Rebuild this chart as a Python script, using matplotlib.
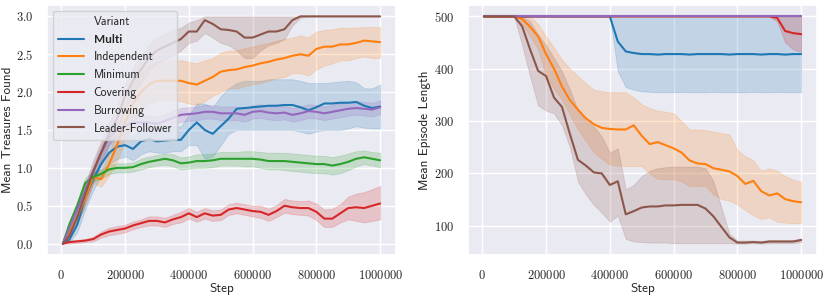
import matplotlib
matplotlib.use('Agg')
import matplotlib.pyplot as plt
from matplotlib.lines import Line2D
import seaborn as sns

sns.set_theme(style='darkgrid')
plt.rcParams['font.family'] = ['cmss10', 'DejaVu Sans']
plt.rcParams['mathtext.fontset'] = 'cm'
plt.rcParams['axes.unicode_minus'] = False

# evaluation steps
steps = [5000] + list(range(25000, 1000001, 25000))

variants = ['Multi', 'Independent', 'Minimum', 'Covering', 'Burrowing', 'Leader-Follower']
colors = ['#1f77b4', '#ff7f0e', '#2ca02c', '#d62728', '#9467bd', '#8c564b']

# ---- Mean Treasures Found (mean, lower, upper) ----
multi = [0.00, 0.05, 0.25, 0.60, 0.85, 1.05, 1.20, 1.28, 1.30, 1.25, 1.35, 1.38, 1.35, 1.36, 1.37, 1.37, 1.50, 1.60, 1.50, 1.45, 1.55,
         1.65, 1.78, 1.79, 1.80, 1.81, 1.82, 1.82, 1.83, 1.83, 1.80, 1.76, 1.80, 1.85, 1.85, 1.86, 1.86, 1.87, 1.82, 1.79, 1.81]
multi_lo = [0.00, 0.02, 0.15, 0.45, 0.70, 0.90, 1.05, 1.12, 1.15, 1.10, 1.18, 1.22, 1.20, 1.20, 1.22, 1.22, 1.30, 1.30, 1.12, 1.15, 1.30,
            1.45, 1.50, 1.50, 1.50, 1.50, 1.50, 1.50, 1.50, 1.50, 1.48, 1.45, 1.48, 1.50, 1.50, 1.50, 1.52, 1.55, 1.53, 1.52, 1.52]
multi_hi = [0.00, 0.08, 0.35, 0.75, 1.00, 1.20, 1.35, 1.42, 1.45, 1.42, 1.50, 1.55, 1.52, 1.54, 1.55, 1.55, 1.70, 1.85, 1.85, 1.80, 1.95,
            2.05, 2.12, 2.15, 2.15, 2.15, 2.17, 2.17, 2.17, 2.17, 2.15, 2.12, 2.12, 2.12, 2.13, 2.14, 2.15, 2.13, 2.05, 2.05, 2.10]

indep = [0.00, 0.15, 0.35, 0.60, 0.88, 0.85, 1.05, 1.30, 1.60, 1.85, 2.00, 2.10, 2.15, 2.15, 2.15, 2.15, 2.12, 2.10, 2.15, 2.20, 2.27,
         2.29, 2.30, 2.33, 2.35, 2.38, 2.40, 2.43, 2.45, 2.48, 2.50, 2.48, 2.57, 2.60, 2.60, 2.63, 2.63, 2.65, 2.68, 2.67, 2.66]
indep_lo = [0.00, 0.10, 0.28, 0.50, 0.80, 0.75, 0.90, 1.10, 1.35, 1.60, 1.75, 1.85, 1.90, 1.90, 1.90, 1.88, 1.85, 1.83, 1.88, 1.95, 2.00,
            2.05, 2.05, 2.08, 2.10, 2.12, 2.15, 2.18, 2.20, 2.25, 2.25, 2.22, 2.30, 2.35, 2.38, 2.42, 2.42, 2.45, 2.47, 2.45, 2.45]
indep_hi = [0.00, 0.20, 0.42, 0.70, 0.95, 0.95, 1.20, 1.50, 1.85, 2.10, 2.25, 2.35, 2.40, 2.40, 2.42, 2.42, 2.40, 2.38, 2.42, 2.45, 2.52,
            2.55, 2.55, 2.58, 2.60, 2.63, 2.65, 2.68, 2.70, 2.72, 2.75, 2.72, 2.80, 2.82, 2.83, 2.85, 2.85, 2.85, 2.86, 2.86, 2.86]

minimum = [0.00, 0.25, 0.50, 0.80, 0.88, 0.92, 0.98, 1.00, 1.00, 1.01, 1.05, 1.08, 1.10, 1.12, 1.10, 1.06, 1.07, 1.09, 1.09, 1.10, 1.12,
           1.12, 1.12, 1.12, 1.12, 1.11, 1.09, 1.09, 1.09, 1.08, 1.07, 1.06, 1.05, 1.05, 1.03, 1.05, 1.08, 1.12, 1.14, 1.12, 1.10]
minimum_lo = [0.00, 0.20, 0.45, 0.73, 0.82, 0.86, 0.92, 0.94, 0.94, 0.95, 0.98, 1.01, 1.03, 1.04, 1.02, 0.98, 0.99, 1.00, 1.00, 1.01, 1.03,
              1.03, 1.03, 1.02, 1.02, 1.00, 0.98, 0.98, 0.97, 0.96, 0.95, 0.94, 0.93, 0.93, 0.91, 0.93, 0.97, 1.02, 1.05, 1.03, 1.01]
minimum_hi = [0.00, 0.30, 0.56, 0.87, 0.95, 0.98, 1.04, 1.06, 1.06, 1.07, 1.12, 1.15, 1.17, 1.19, 1.18, 1.14, 1.15, 1.18, 1.18, 1.19, 1.21,
              1.21, 1.21, 1.22, 1.22, 1.21, 1.20, 1.20, 1.20, 1.19, 1.18, 1.17, 1.16, 1.16, 1.14, 1.16, 1.19, 1.22, 1.23, 1.21, 1.20]

covering = [0.00, 0.02, 0.03, 0.04, 0.06, 0.12, 0.16, 0.18, 0.20, 0.24, 0.27, 0.30, 0.30, 0.28, 0.32, 0.35, 0.40, 0.35, 0.40, 0.37, 0.38,
            0.45, 0.47, 0.45, 0.43, 0.42, 0.38, 0.43, 0.50, 0.48, 0.47, 0.47, 0.42, 0.33, 0.33, 0.40, 0.47, 0.48, 0.47, 0.50, 0.53]
covering_lo = [0.00, 0.00, 0.01, 0.02, 0.03, 0.08, 0.11, 0.13, 0.15, 0.19, 0.22, 0.24, 0.24, 0.22, 0.26, 0.28, 0.33, 0.29, 0.33, 0.30, 0.31,
               0.38, 0.40, 0.38, 0.36, 0.34, 0.30, 0.35, 0.41, 0.39, 0.38, 0.37, 0.31, 0.22, 0.22, 0.28, 0.32, 0.30, 0.28, 0.30, 0.32]
covering_hi = [0.00, 0.04, 0.05, 0.06, 0.09, 0.16, 0.21, 0.23, 0.25, 0.29, 0.32, 0.36, 0.36, 0.34, 0.38, 0.42, 0.47, 0.42, 0.47, 0.44, 0.45,
               0.52, 0.54, 0.52, 0.50, 0.50, 0.46, 0.51, 0.59, 0.57, 0.56, 0.57, 0.53, 0.45, 0.46, 0.52, 0.62, 0.66, 0.68, 0.72, 0.76]

burrow = [0.00, 0.20, 0.45, 0.70, 0.95, 1.20, 1.40, 1.50, 1.55, 1.60, 1.60, 1.60, 1.58, 1.62, 1.66, 1.70, 1.71, 1.72, 1.74, 1.74, 1.72,
          1.72, 1.72, 1.70, 1.74, 1.75, 1.73, 1.72, 1.73, 1.70, 1.72, 1.75, 1.74, 1.72, 1.74, 1.76, 1.78, 1.79, 1.78, 1.77, 1.80]
burrow_lo = [0.00, 0.14, 0.37, 0.61, 0.86, 1.10, 1.30, 1.40, 1.45, 1.50, 1.51, 1.51, 1.49, 1.53, 1.57, 1.61, 1.62, 1.63, 1.65, 1.65, 1.63,
             1.63, 1.63, 1.61, 1.65, 1.66, 1.64, 1.63, 1.64, 1.61, 1.63, 1.66, 1.65, 1.63, 1.65, 1.67, 1.69, 1.70, 1.69, 1.68, 1.71]
burrow_hi = [0.00, 0.26, 0.53, 0.79, 1.04, 1.30, 1.50, 1.60, 1.65, 1.70, 1.69, 1.69, 1.67, 1.71, 1.75, 1.79, 1.80, 1.81, 1.83, 1.83, 1.81,
             1.81, 1.81, 1.79, 1.83, 1.84, 1.82, 1.81, 1.82, 1.79, 1.81, 1.84, 1.83, 1.81, 1.83, 1.85, 1.87, 1.88, 1.87, 1.86, 1.89]

leader = [0.00, 0.10, 0.35, 0.65, 0.95, 1.20, 1.45, 1.65, 1.95, 2.15, 2.30, 2.45, 2.55, 2.60, 2.65, 2.70, 2.80, 2.80, 2.95, 2.90, 2.83,
          2.82, 2.80, 2.72, 2.72, 2.76, 2.80, 2.80, 2.83, 2.95, 3.00, 3.00, 3.00, 3.00, 3.00, 3.00, 3.00, 3.00, 3.00, 3.00, 3.00]
leader_lo = [0.00, 0.05, 0.25, 0.52, 0.80, 1.05, 1.30, 1.50, 1.78, 1.98, 2.12, 2.28, 2.38, 2.43, 2.48, 2.55, 2.65, 2.68, 2.78, 2.72, 2.65,
             2.62, 2.55, 2.45, 2.45, 2.55, 2.62, 2.65, 2.70, 2.88, 2.98, 3.00, 3.00, 3.00, 3.00, 3.00, 3.00, 3.00, 3.00, 3.00, 3.00]
leader_hi = [0.00, 0.15, 0.45, 0.78, 1.10, 1.35, 1.60, 1.80, 2.12, 2.32, 2.48, 2.62, 2.72, 2.77, 2.82, 2.85, 2.92, 2.95, 3.00, 3.00, 3.00,
             3.00, 3.00, 3.00, 3.00, 3.00, 3.00, 3.00, 3.00, 3.00, 3.00, 3.00, 3.00, 3.00, 3.00, 3.00, 3.00, 3.00, 3.00, 3.00, 3.00]

# ---- Mean Episode Length (mean, lower, upper) ----
flat_500 = [500, 500, 500, 500, 500, 500, 500, 500, 500, 500, 500, 500, 500, 500, 500, 500, 500, 500, 500, 500, 500,
            500, 500, 500, 500, 500, 500, 500, 500, 500, 500, 500, 500, 500, 500, 500, 500, 500, 500, 500, 500]

multi_len = [500, 500, 500, 500, 500, 500, 500, 500, 500, 500, 500, 500, 500, 500, 500, 500, 500, 452, 433, 430, 428,
             428, 427, 428, 428, 428, 427, 428, 428, 428, 428, 427, 428, 428, 428, 427, 428, 428, 427, 428, 428]
multi_len_lo = [500, 500, 500, 500, 500, 500, 500, 500, 500, 500, 500, 500, 500, 500, 500, 500, 500, 395, 365, 360, 357,
                356, 355, 355, 355, 356, 355, 355, 355, 356, 355, 355, 355, 355, 356, 355, 355, 356, 355, 355, 355]
multi_len_hi = flat_500

indep_len = [500, 500, 500, 500, 500, 495, 480, 462, 428, 400, 366, 340, 322, 305, 294, 287, 285, 284, 284, 292, 272,
             256, 260, 254, 248, 240, 225, 219, 218, 210, 207, 204, 195, 180, 186, 166, 158, 162, 151, 147, 145]
indep_len_lo = [500, 500, 500, 500, 500, 485, 462, 437, 386, 362, 341, 312, 284, 262, 240, 228, 217, 215, 214, 214, 214,
                200, 190, 189, 189, 185, 176, 176, 176, 160, 151, 148, 141, 130, 120, 113, 116, 108, 106, 105, 105]
indep_len_hi = [500, 500, 500, 500, 500, 500, 500, 485, 462, 440, 417, 400, 386, 372, 360, 357, 355, 355, 355, 345, 332,
                325, 320, 318, 315, 300, 284, 284, 283, 280, 277, 275, 245, 233, 225, 205, 210, 205, 195, 188, 184]

minimum_len = flat_500

covering_len = [500, 500, 500, 500, 500, 500, 500, 500, 500, 500, 500, 500, 500, 500, 500, 500, 500, 500, 500, 500, 500,
                500, 500, 500, 500, 500, 500, 500, 500, 500, 500, 500, 500, 500, 500, 500, 500, 497, 472, 468, 466]
covering_len_lo = [500, 500, 500, 500, 500, 500, 500, 500, 500, 500, 500, 500, 500, 500, 500, 500, 500, 500, 500, 500, 500,
                   500, 500, 500, 500, 500, 500, 500, 500, 500, 500, 500, 500, 500, 500, 500, 500, 490, 450, 437, 432]

burrow_len = flat_500

leader_len = [500, 500, 500, 500, 500, 481, 437, 396, 386, 345, 327, 275, 226, 215, 202, 200, 178, 185, 122, 128, 135,
              137, 137, 139, 139, 140, 140, 140, 133, 118, 98, 78, 68, 68, 69, 68, 70, 70, 70, 70, 73]
leader_len_lo = [500, 500, 500, 500, 500, 445, 385, 330, 320, 315, 292, 250, 185, 160, 140, 125, 108, 120, 75, 70, 69,
                 68, 68, 68, 67, 67, 67, 67, 67, 67, 67, 67, 66, 66, 67, 66, 67, 67, 67, 67, 69]
leader_len_hi = [500, 500, 500, 500, 500, 500, 490, 465, 445, 420, 395, 360, 320, 300, 290, 270, 240, 248, 170, 178, 195,
                 205, 210, 212, 213, 213, 213, 213, 210, 185, 135, 85, 72, 72, 72, 71, 73, 73, 73, 73, 76]

treasures = [(multi, multi_lo, multi_hi), (indep, indep_lo, indep_hi), (minimum, minimum_lo, minimum_hi),
             (covering, covering_lo, covering_hi), (burrow, burrow_lo, burrow_hi), (leader, leader_lo, leader_hi)]
lengths = [(multi_len, multi_len_lo, multi_len_hi), (indep_len, indep_len_lo, indep_len_hi),
           (minimum_len, flat_500, flat_500), (covering_len, covering_len_lo, flat_500),
           (burrow_len, flat_500, flat_500), (leader_len, leader_len_lo, leader_len_hi)]

fig = plt.figure(figsize=(8.31, 2.98), dpi=100)
ax1 = fig.add_axes([47 / 831, 43 / 298, 349 / 831, 250 / 298])
ax2 = fig.add_axes([468 / 831, 43 / 298, 349 / 831, 250 / 298])

for ax, series in [(ax1, treasures), (ax2, lengths)]:
    for (mean, lo, hi), name, c in zip(series, variants, colors):
        ax.fill_between(steps, lo, hi, color=c, alpha=0.2, linewidth=0.6)
        ax.plot(steps, mean, color=c, linewidth=1.5, label=name)
    ax.set_xticks([0, 200000, 400000, 600000, 800000, 1000000])
    ax.xaxis.set_major_formatter(plt.FuncFormatter(lambda v, _: f'${v:.0f}$'))
    ax.tick_params(labelsize=9, pad=4)
    ax.set_xlabel('Step', fontsize=9.5, labelpad=1)

ax1.set_yticks([0, 0.5, 1.0, 1.5, 2.0, 2.5, 3.0])
ax1.yaxis.set_major_formatter(plt.FuncFormatter(lambda v, _: f'${v:.1f}$'))
ax1.set_ylabel('Mean Treasures Found', fontsize=9.5, labelpad=1.5)
ax2.set_yticks([100, 200, 300, 400, 500])
ax2.yaxis.set_major_formatter(plt.FuncFormatter(lambda v, _: f'${v:.0f}$'))
ax2.set_ylabel('Mean Episode Length', fontsize=9.5, labelpad=2)

handles = [Line2D([], [], color='none')] + [Line2D([], [], color=c, linewidth=1.5) for c in colors]
leg = ax1.legend(handles, ['Variant'] + variants, loc='upper left', fontsize=8.5,
                 handlelength=2.2, handletextpad=0.8, labelspacing=0.5, borderpad=0.45)
leg.get_texts()[1].set_fontfamily(['Lato', 'DejaVu Sans'])
leg.get_texts()[1].set_fontweight('bold')

fig.savefig('out.png', dpi=100)
